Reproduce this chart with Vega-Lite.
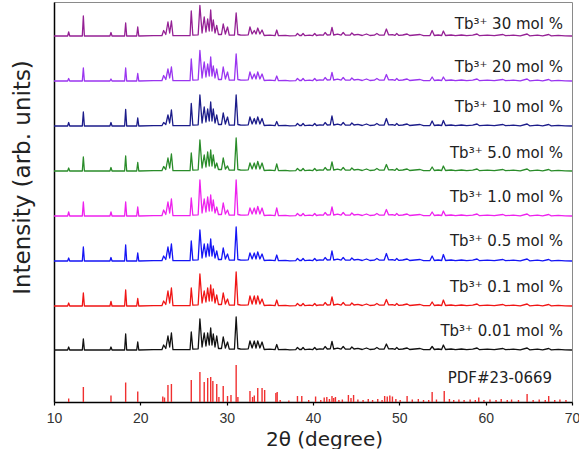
{
  "$schema": "https://vega.github.io/schema/vega-lite/v6.json",
  "width": 518,
  "height": 400,
  "autosize": {"type": "none"},
  "padding": {"left": 54, "top": 2, "right": 7, "bottom": 47},
  "config": {
    "view": {"stroke": "#8a8a8a", "strokeWidth": 1},
    "line": {"strokeWidth": 1.3, "strokeJoin": "round"}
  },
  "datasets": {
    "scans": [
      {"t":10,"a":0,"b":0,"c":0,"d":0,"e":0,"f":0,"g":0,"k":0},
      {"t":11.58,"a":0,"b":0,"c":0,"d":0,"e":0,"f":0,"g":0,"k":0},
      {"t":11.7,"a":4,"b":2.5,"c":3.5,"d":3,"e":4,"f":3,"g":3,"k":3},
      {"t":11.82,"a":0,"b":0,"c":0,"d":0,"e":0,"f":0,"g":0,"k":0},
      {"t":13.28,"a":0,"b":0,"c":0,"d":0,"e":0,"f":0,"g":0,"k":0},
      {"t":13.4,"a":20,"b":13,"c":14,"d":14,"e":14,"f":14,"g":13,"k":11},
      {"t":13.52,"a":0,"b":0,"c":0,"d":0,"e":0,"f":0,"g":0,"k":0},
      {"t":16.48,"a":0,"b":0,"c":0,"d":0,"e":0,"f":0,"g":0,"k":0},
      {"t":16.6,"a":3.5,"b":2,"c":3.5,"d":3.5,"e":4,"f":3.5,"g":4.5,"k":3},
      {"t":16.72,"a":0,"b":0,"c":0,"d":0,"e":0,"f":0,"g":0,"k":0},
      {"t":18.18,"a":0,"b":0,"c":0,"d":0,"e":0,"f":0,"g":0,"k":0},
      {"t":18.3,"a":13,"b":13,"c":16.5,"d":15,"e":14,"f":16,"g":16,"k":16},
      {"t":18.42,"a":0,"b":0,"c":0,"d":0,"e":0,"f":0,"g":0,"k":0},
      {"t":19.58,"a":0,"b":0,"c":0,"d":0,"e":0,"f":0,"g":0,"k":0},
      {"t":19.7,"a":9,"b":7.5,"c":8,"d":8.5,"e":9,"f":8,"g":7.5,"k":8},
      {"t":19.82,"a":0,"b":0,"c":0,"d":0,"e":0,"f":0,"g":0,"k":0},
      {"t":21.5,"a":0.3,"b":0.3,"c":0.3,"d":0.3,"e":0.3,"f":0.3,"g":0.3,"k":0.3},
      {"t":22.5,"a":0.3,"b":0.3,"c":0.3,"d":0.3,"e":0.3,"f":0.3,"g":0.3,"k":0.3},
      {"t":22.7,"a":5.5,"b":5.5,"c":3.5,"d":4.5,"e":6,"f":5,"g":5,"k":5},
      {"t":22.95,"a":1.5,"b":1.5,"c":1.5,"d":1.5,"e":1.5,"f":1.5,"g":1.5,"k":1.5},
      {"t":23.2,"a":14,"b":12,"c":11,"d":13,"e":14,"f":14,"g":15,"k":14},
      {"t":23.4,"a":3,"b":3,"c":3,"d":3,"e":3,"f":3,"g":3,"k":3},
      {"t":23.6,"a":15,"b":14,"c":16,"d":17,"e":17,"f":17,"g":18,"k":17},
      {"t":23.78,"a":0.3,"b":0.3,"c":0.3,"d":0.3,"e":0.3,"f":0.3,"g":0.3,"k":0.3},
      {"t":25.0,"a":0.3,"b":0.3,"c":0.3,"d":0.3,"e":0.3,"f":0.3,"g":0.3,"k":0.3},
      {"t":25.76,"a":0.3,"b":0.3,"c":0.3,"d":0.3,"e":0.3,"f":0.3,"g":0.3,"k":0.3},
      {"t":25.9,"a":25,"b":22,"c":22.5,"d":18,"e":18,"f":20,"g":18,"k":18},
      {"t":26.08,"a":0.8,"b":0.8,"c":0.8,"d":0.8,"e":0.8,"f":0.8,"g":0.8,"k":0.8},
      {"t":26.7,"a":1.2,"b":1.2,"c":1.2,"d":1.2,"e":1.2,"f":1.2,"g":1.2,"k":1.2},
      {"t":26.9,"a":30.5,"b":30.5,"c":31,"d":31,"e":36,"f":31,"g":32,"k":31},
      {"t":27.15,"a":3,"b":3,"c":3,"d":3,"e":3,"f":3,"g":3,"k":3},
      {"t":27.4,"a":19,"b":19,"c":19,"d":16,"e":17,"f":17,"g":15,"k":17},
      {"t":27.6,"a":4,"b":4,"c":4,"d":4,"e":4,"f":4,"g":4,"k":4},
      {"t":27.8,"a":17,"b":17,"c":17,"d":19,"e":19,"f":17,"g":18,"k":17},
      {"t":27.98,"a":5,"b":5,"c":5,"d":5,"e":5,"f":5,"g":5,"k":5},
      {"t":28.15,"a":26,"b":24,"c":24,"d":21,"e":21,"f":22,"g":21,"k":22},
      {"t":28.3,"a":5,"b":5,"c":5,"d":5,"e":5,"f":5,"g":5,"k":5},
      {"t":28.45,"a":16,"b":15,"c":17,"d":16,"e":16,"f":15,"g":17,"k":16},
      {"t":28.65,"a":3,"b":3,"c":3,"d":3,"e":3,"f":3,"g":3,"k":3},
      {"t":28.85,"a":10.5,"b":12,"c":11,"d":8,"e":9,"f":10,"g":11,"k":14},
      {"t":29.05,"a":1.5,"b":1.5,"c":1.5,"d":1.5,"e":1.5,"f":1.5,"g":1.5,"k":1.5},
      {"t":29.4,"a":1.5,"b":1.5,"c":1.5,"d":1.5,"e":1.5,"f":1.5,"g":1.5,"k":1.5},
      {"t":29.6,"a":12,"b":14,"c":13,"d":13,"e":13,"f":13,"g":13,"k":13},
      {"t":29.85,"a":2,"b":2,"c":2,"d":2,"e":2,"f":2,"g":2,"k":2},
      {"t":30.1,"a":9,"b":9,"c":9,"d":5,"e":6,"f":7,"g":7,"k":8},
      {"t":30.3,"a":0.8,"b":0.8,"c":0.8,"d":0.8,"e":0.8,"f":0.8,"g":0.8,"k":0.8},
      {"t":30.9,"a":0.8,"b":0.8,"c":0.8,"d":0.8,"e":0.8,"f":0.8,"g":0.8,"k":0.8},
      {"t":31.1,"a":23,"b":27,"c":31,"d":33,"e":36,"f":34,"g":34,"k":33},
      {"t":31.3,"a":1.5,"b":1.5,"c":1.5,"d":1.5,"e":1.5,"f":1.5,"g":1.5,"k":1.5},
      {"t":31.6,"a":1,"b":1,"c":1,"d":1,"e":1,"f":1,"g":1,"k":1},
      {"t":32.1,"a":0.8,"b":0.8,"c":0.8,"d":0.8,"e":0.8,"f":0.8,"g":0.8,"k":0.8},
      {"t":32.5,"a":1.2,"b":1.2,"c":1.2,"d":1.2,"e":1.2,"f":1.2,"g":1.2,"k":1.2},
      {"t":32.7,"a":9,"b":9,"c":9,"d":8,"e":8,"f":8,"g":10,"k":9},
      {"t":32.95,"a":2,"b":2,"c":2,"d":2,"e":2,"f":2,"g":2,"k":2},
      {"t":33.2,"a":5.5,"b":7,"c":7.5,"d":8,"e":8,"f":8,"g":10,"k":9},
      {"t":33.4,"a":2,"b":2,"c":2,"d":2,"e":2,"f":2,"g":2,"k":2},
      {"t":33.6,"a":8,"b":9,"c":9,"d":9.5,"e":9.5,"f":9,"g":10,"k":9},
      {"t":33.85,"a":2,"b":2,"c":2,"d":2,"e":2,"f":2,"g":2,"k":2},
      {"t":34.1,"a":6,"b":7,"c":7.5,"d":8,"e":8,"f":7,"g":7,"k":8},
      {"t":34.35,"a":0.5,"b":0.5,"c":0.5,"d":0.5,"e":0.5,"f":0.5,"g":0.5,"k":0.5},
      {"t":35.0,"a":0.8,"b":0.8,"c":0.8,"d":0.8,"e":0.8,"f":0.8,"g":0.8,"k":0.8},
      {"t":35.6,"a":0.3,"b":0.3,"c":0.3,"d":0.3,"e":0.3,"f":0.3,"g":0.3,"k":0.3},
      {"t":35.8,"a":6,"b":5,"c":4.5,"d":7,"e":8,"f":6,"g":6,"k":5.5},
      {"t":36.0,"a":0.3,"b":0.3,"c":0.3,"d":0.3,"e":0.3,"f":0.3,"g":0.3,"k":0.3},
      {"t":36.8,"a":0.6,"b":0.6,"c":0.6,"d":0.6,"e":0.6,"f":0.6,"g":0.6,"k":0.6},
      {"t":37.3,"a":0.2,"b":0.2,"c":0.2,"d":0.2,"e":0.2,"f":0.2,"g":0.2,"k":0.2},
      {"t":38.0,"a":0.3,"b":0.3,"c":0.3,"d":0.3,"e":0.3,"f":0.3,"g":0.3,"k":0.3},
      {"t":38.2,"a":2.5,"b":2.5,"c":2.5,"d":2.5,"e":2.5,"f":2.5,"g":2.5,"k":2.5},
      {"t":38.45,"a":0.5,"b":0.5,"c":0.5,"d":0.5,"e":0.5,"f":0.5,"g":0.5,"k":0.5},
      {"t":38.65,"a":0.5,"b":0.5,"c":0.5,"d":0.5,"e":0.5,"f":0.5,"g":0.5,"k":0.5},
      {"t":38.85,"a":2.5,"b":2.5,"c":2.5,"d":2.5,"e":2.5,"f":2.5,"g":2.5,"k":2.5},
      {"t":39.05,"a":0.3,"b":0.3,"c":0.3,"d":0.3,"e":0.3,"f":0.3,"g":0.3,"k":0.3},
      {"t":39.6,"a":0.8,"b":0.8,"c":0.8,"d":0.8,"e":0.8,"f":0.8,"g":0.8,"k":0.8},
      {"t":39.95,"a":0.3,"b":0.3,"c":0.3,"d":0.3,"e":0.3,"f":0.3,"g":0.3,"k":0.3},
      {"t":40.2,"a":2.5,"b":2.5,"c":2.5,"d":2.5,"e":2.5,"f":2.5,"g":2.5,"k":2.5},
      {"t":40.4,"a":0.5,"b":0.5,"c":0.5,"d":0.5,"e":0.5,"f":0.5,"g":0.5,"k":0.5},
      {"t":40.8,"a":1.2,"b":1.2,"c":1.2,"d":1.2,"e":1.2,"f":1.2,"g":1.2,"k":1.2},
      {"t":41.2,"a":0.8,"b":0.8,"c":0.8,"d":0.8,"e":0.8,"f":0.8,"g":0.8,"k":0.8},
      {"t":41.4,"a":3.5,"b":3.5,"c":3.5,"d":3.5,"e":3.5,"f":3.5,"g":3.5,"k":3.5},
      {"t":41.65,"a":1,"b":1,"c":1,"d":1,"e":1,"f":1,"g":1,"k":1},
      {"t":42.0,"a":1.2,"b":1.2,"c":1.2,"d":1.2,"e":1.2,"f":1.2,"g":1.2,"k":1.2},
      {"t":42.2,"a":8.5,"b":8.5,"c":10,"d":9,"e":9,"f":10,"g":9,"k":8.5},
      {"t":42.4,"a":1,"b":1,"c":1,"d":1,"e":1,"f":1,"g":1,"k":1},
      {"t":42.85,"a":1.8,"b":1.8,"c":1.8,"d":1.8,"e":1.8,"f":1.8,"g":1.8,"k":1.8},
      {"t":43.25,"a":0.8,"b":0.8,"c":0.8,"d":0.8,"e":0.8,"f":0.8,"g":0.8,"k":0.8},
      {"t":43.5,"a":3.5,"b":3.5,"c":3.5,"d":3.5,"e":3.5,"f":3.5,"g":3.5,"k":3.5},
      {"t":43.75,"a":0.8,"b":0.8,"c":0.8,"d":0.8,"e":0.8,"f":0.8,"g":0.8,"k":0.8},
      {"t":44.3,"a":0.8,"b":0.8,"c":0.8,"d":0.8,"e":0.8,"f":0.8,"g":0.8,"k":0.8},
      {"t":44.5,"a":3,"b":3,"c":3,"d":3,"e":3,"f":3,"g":3,"k":3},
      {"t":44.75,"a":1,"b":1,"c":1,"d":1,"e":1,"f":1,"g":1,"k":1},
      {"t":45.2,"a":1.6,"b":1.6,"c":1.6,"d":1.6,"e":1.6,"f":1.6,"g":1.6,"k":1.6},
      {"t":45.7,"a":0.5,"b":0.5,"c":0.5,"d":0.5,"e":0.5,"f":0.5,"g":0.5,"k":0.5},
      {"t":46.2,"a":2,"b":2,"c":2,"d":2,"e":2,"f":2,"g":2,"k":2},
      {"t":46.6,"a":0.5,"b":0.5,"c":0.5,"d":0.5,"e":0.5,"f":0.5,"g":0.5,"k":0.5},
      {"t":47.1,"a":0.8,"b":0.8,"c":0.8,"d":0.8,"e":0.8,"f":0.8,"g":0.8,"k":0.8},
      {"t":47.4,"a":2.5,"b":2.5,"c":2.5,"d":2.5,"e":2.5,"f":2.5,"g":2.5,"k":2.5},
      {"t":47.7,"a":0.8,"b":0.8,"c":0.8,"d":0.8,"e":0.8,"f":0.8,"g":0.8,"k":0.8},
      {"t":48.25,"a":1,"b":1,"c":1,"d":1,"e":1,"f":1,"g":1,"k":1},
      {"t":48.5,"a":7,"b":6.5,"c":7.5,"d":6.5,"e":6.5,"f":7.5,"g":6.5,"k":6},
      {"t":48.75,"a":1.2,"b":1.2,"c":1.2,"d":1.2,"e":1.2,"f":1.2,"g":1.2,"k":1.2},
      {"t":49.2,"a":1.4,"b":1.4,"c":1.4,"d":1.4,"e":1.4,"f":1.4,"g":1.4,"k":1.4},
      {"t":49.5,"a":0.6,"b":0.6,"c":0.6,"d":0.6,"e":0.6,"f":0.6,"g":0.6,"k":0.6},
      {"t":49.7,"a":2.5,"b":2.5,"c":2.5,"d":2.5,"e":2.5,"f":2.5,"g":2.5,"k":2.5},
      {"t":49.95,"a":0.6,"b":0.6,"c":0.6,"d":0.6,"e":0.6,"f":0.6,"g":0.6,"k":0.6},
      {"t":50.4,"a":1,"b":1,"c":1,"d":1,"e":1,"f":1,"g":1,"k":1},
      {"t":50.9,"a":2,"b":2,"c":2,"d":2,"e":2,"f":2,"g":2,"k":2},
      {"t":51.2,"a":0.5,"b":0.5,"c":0.5,"d":0.5,"e":0.5,"f":0.5,"g":0.5,"k":0.5},
      {"t":51.8,"a":1,"b":1,"c":1,"d":1,"e":1,"f":1,"g":1,"k":1},
      {"t":52.4,"a":1.5,"b":1.5,"c":1.5,"d":1.5,"e":1.5,"f":1.5,"g":1.5,"k":1.5},
      {"t":52.8,"a":0.4,"b":0.4,"c":0.4,"d":0.4,"e":0.4,"f":0.4,"g":0.4,"k":0.4},
      {"t":53.55,"a":0.5,"b":0.5,"c":0.5,"d":0.5,"e":0.5,"f":0.5,"g":0.5,"k":0.5},
      {"t":53.8,"a":5.5,"b":4,"c":5,"d":4,"e":4,"f":5,"g":4,"k":3.5},
      {"t":54.05,"a":0.5,"b":0.5,"c":0.5,"d":0.5,"e":0.5,"f":0.5,"g":0.5,"k":0.5},
      {"t":54.5,"a":1,"b":1,"c":1,"d":1,"e":1,"f":1,"g":1,"k":1},
      {"t":54.9,"a":0.5,"b":0.5,"c":0.5,"d":0.5,"e":0.5,"f":0.5,"g":0.5,"k":0.5},
      {"t":55.1,"a":5,"b":4,"c":5.5,"d":5,"e":5,"f":6.5,"g":6,"k":5},
      {"t":55.35,"a":0.5,"b":0.5,"c":0.5,"d":0.5,"e":0.5,"f":0.5,"g":0.5,"k":0.5},
      {"t":56.0,"a":1,"b":1,"c":1,"d":1,"e":1,"f":1,"g":1,"k":1},
      {"t":56.5,"a":0.3,"b":0.3,"c":0.3,"d":0.3,"e":0.3,"f":0.3,"g":0.3,"k":0.3},
      {"t":57.2,"a":1,"b":1,"c":1,"d":1,"e":1,"f":1,"g":1,"k":1},
      {"t":57.8,"a":0.3,"b":0.3,"c":0.3,"d":0.3,"e":0.3,"f":0.3,"g":0.3,"k":0.3},
      {"t":58.5,"a":0.8,"b":0.8,"c":0.8,"d":0.8,"e":0.8,"f":0.8,"g":0.8,"k":0.8},
      {"t":59.0,"a":2,"b":2,"c":2,"d":2,"e":2,"f":2,"g":2,"k":2},
      {"t":59.3,"a":0.3,"b":0.3,"c":0.3,"d":0.3,"e":0.3,"f":0.3,"g":0.3,"k":0.3},
      {"t":60.2,"a":0.8,"b":0.8,"c":0.8,"d":0.8,"e":0.8,"f":0.8,"g":0.8,"k":0.8},
      {"t":61.0,"a":0.3,"b":0.3,"c":0.3,"d":0.3,"e":0.3,"f":0.3,"g":0.3,"k":0.3},
      {"t":62.0,"a":1.5,"b":1.5,"c":1.5,"d":1.5,"e":1.5,"f":1.5,"g":1.5,"k":1.5},
      {"t":62.3,"a":0.3,"b":0.3,"c":0.3,"d":0.3,"e":0.3,"f":0.3,"g":0.3,"k":0.3},
      {"t":63.2,"a":0.8,"b":0.8,"c":0.8,"d":0.8,"e":0.8,"f":0.8,"g":0.8,"k":0.8},
      {"t":64.0,"a":0.2,"b":0.2,"c":0.2,"d":0.2,"e":0.2,"f":0.2,"g":0.2,"k":0.2},
      {"t":64.8,"a":2,"b":2,"c":2,"d":2,"e":2,"f":2,"g":2,"k":2},
      {"t":65.1,"a":0.2,"b":0.2,"c":0.2,"d":0.2,"e":0.2,"f":0.2,"g":0.2,"k":0.2},
      {"t":66.0,"a":0.8,"b":0.8,"c":0.8,"d":0.8,"e":0.8,"f":0.8,"g":0.8,"k":0.8},
      {"t":66.6,"a":0.2,"b":0.2,"c":0.2,"d":0.2,"e":0.2,"f":0.2,"g":0.2,"k":0.2},
      {"t":67.3,"a":1.5,"b":1.5,"c":1.5,"d":1.5,"e":1.5,"f":1.5,"g":1.5,"k":1.5},
      {"t":67.6,"a":0.2,"b":0.2,"c":0.2,"d":0.2,"e":0.2,"f":0.2,"g":0.2,"k":0.2},
      {"t":68.4,"a":0.6,"b":0.6,"c":0.6,"d":0.6,"e":0.6,"f":0.6,"g":0.6,"k":0.6},
      {"t":69.2,"a":0.2,"b":0.2,"c":0.2,"d":0.2,"e":0.2,"f":0.2,"g":0.2,"k":0.2},
      {"t":70,"a":0,"b":0,"c":0,"d":0,"e":0,"f":0,"g":0,"k":0}
    ],
    "pdf": [
      {"t":11.7,"h":3.5},{"t":13.4,"h":15},{"t":16.6,"h":6.5},{"t":18.3,"h":19.5},{"t":19.7,"h":10.5},
      {"t":22.6,"h":5.5},{"t":22.8,"h":4.5},{"t":23.2,"h":17},{"t":23.6,"h":18},
      {"t":25.9,"h":22},{"t":26.9,"h":30},{"t":27.4,"h":20},{"t":27.8,"h":24},{"t":28.15,"h":25},
      {"t":28.4,"h":21},{"t":28.85,"h":18},{"t":29.1,"h":5},{"t":29.6,"h":16},{"t":30.1,"h":6},
      {"t":30.5,"h":7},{"t":31.1,"h":37},{"t":31.3,"h":5},{"t":32.7,"h":11},{"t":33.0,"h":5},
      {"t":33.2,"h":6.5},{"t":33.6,"h":14},{"t":34.1,"h":14},{"t":34.4,"h":12},{"t":35.7,"h":9},
      {"t":35.85,"h":10},{"t":36.2,"h":2},{"t":37.2,"h":1.5},{"t":38.2,"h":6},{"t":38.7,"h":6},
      {"t":39.5,"h":2},{"t":40.3,"h":5.5},{"t":40.9,"h":2},{"t":41.3,"h":4.5},{"t":41.6,"h":5},
      {"t":41.9,"h":3},{"t":42.2,"h":6},{"t":42.4,"h":4},{"t":42.6,"h":5},{"t":43.0,"h":2},
      {"t":43.4,"h":2.5},{"t":44.1,"h":7},{"t":44.4,"h":4},{"t":44.7,"h":7},{"t":45.2,"h":2.5},
      {"t":45.8,"h":2},{"t":46.4,"h":3},{"t":46.9,"h":2},{"t":47.5,"h":3},{"t":48.0,"h":2},
      {"t":48.3,"h":6},{"t":48.6,"h":5.5},{"t":48.9,"h":6.5},{"t":49.2,"h":5.5},{"t":49.6,"h":3},
      {"t":50.1,"h":2},{"t":50.9,"h":6},{"t":51.5,"h":2.5},{"t":52.2,"h":3},{"t":52.8,"h":2},
      {"t":53.4,"h":2},{"t":53.8,"h":10},{"t":54.3,"h":2.5},{"t":55.2,"h":11},{"t":55.8,"h":3},
      {"t":56.3,"h":2},{"t":56.9,"h":2.5},{"t":57.5,"h":2},{"t":58.2,"h":2.5},{"t":58.8,"h":2},
      {"t":59.2,"h":4.5},{"t":59.8,"h":2},{"t":60.5,"h":2.5},{"t":61.2,"h":2},{"t":61.8,"h":3},
      {"t":62.5,"h":2},{"t":63.0,"h":2.5},{"t":63.8,"h":2},{"t":64.8,"h":8},{"t":65.5,"h":2},
      {"t":66.2,"h":2.5},{"t":66.9,"h":2},{"t":67.3,"h":6},{"t":68.0,"h":2},{"t":68.6,"h":2.5},
      {"t":69.3,"h":2}
    ],
    "labels": [
      {"t":68.95,"y":378,"label":"Tb³⁺  30 mol %"},
      {"t":68.95,"y":335,"label":"Tb³⁺  20 mol %"},
      {"t":68.95,"y":295,"label":"Tb³⁺  10 mol %"},
      {"t":68.95,"y":249,"label":"Tb³⁺  5.0 mol %"},
      {"t":68.95,"y":205,"label":"Tb³⁺  1.0 mol %"},
      {"t":68.95,"y":161,"label":"Tb³⁺  0.5 mol %"},
      {"t":68.95,"y":115.5,"label":"Tb³⁺  0.1 mol %"},
      {"t":68.95,"y":71.5,"label":"Tb³⁺ 0.01 mol %"},
      {"t":67.7,"y":24,"label":"PDF#23-0669"}
    ]
  },
  "layer": [
    {
      "data": {"name": "pdf"},
      "mark": {"type": "rule", "color": "#f03030", "strokeWidth": 1.4},
      "encoding": {
        "x": {
          "field": "t", "type": "quantitative",
          "scale": {"domain": [10, 70], "nice": false, "zero": false},
          "axis": {
            "values": [10, 20, 30, 40, 50, 60, 70],
            "grid": false, "labelFlush": false,
            "labelFont": "Liberation Sans", "labelFontSize": 14, "labelColor": "#333333", "labelPadding": 6,
            "tickSize": 3, "tickColor": "#000000", "tickWidth": 1.2,
            "domainColor": "#000000", "domainWidth": 1.5,
            "title": "2θ (degree)", "titleFont": "DejaVu Sans", "titleFontSize": 20, "titleFontWeight": "normal",
            "titleColor": "#222222", "titleX": 270, "titleY": 43, "titleBaseline": "alphabetic", "titleAlign": "center"
          }
        },
        "y": {
          "field": "h", "type": "quantitative",
          "scale": {"domain": [0, 400], "nice": false, "zero": false},
          "axis": {
            "labels": false, "ticks": false, "grid": false,
            "domainColor": "#000000", "domainWidth": 1.5,
            "title": "Intensity (arb. units)", "titleFont": "DejaVu Sans", "titleFontSize": 23, "titleFontWeight": "normal",
            "titleColor": "#222222", "titleX": -32, "titleY": 175, "titleAlign": "center", "titleBaseline": "middle"
          }
        },
        "y2": {"datum": 0}
      }
    },
    {
      "data": {"name": "scans"},
      "mark": {"type": "line", "color": "#111111"},
      "encoding": {
        "x": {"field": "t", "type": "quantitative"},
        "y": {"field": "k", "type": "quantitative", "scale": {"domain": [-52, 348], "nice": false, "zero": false}, "axis": null}
      }
    },
    {
      "data": {"name": "scans"},
      "mark": {"type": "line", "color": "#f01515"},
      "encoding": {
        "x": {"field": "t", "type": "quantitative"},
        "y": {"field": "g", "type": "quantitative", "scale": {"domain": [-96, 304], "nice": false, "zero": false}, "axis": null}
      }
    },
    {
      "data": {"name": "scans"},
      "mark": {"type": "line", "color": "#1515f5"},
      "encoding": {
        "x": {"field": "t", "type": "quantitative"},
        "y": {"field": "f", "type": "quantitative", "scale": {"domain": [-141, 259], "nice": false, "zero": false}, "axis": null}
      }
    },
    {
      "data": {"name": "scans"},
      "mark": {"type": "line", "color": "#ee22ee"},
      "encoding": {
        "x": {"field": "t", "type": "quantitative"},
        "y": {"field": "e", "type": "quantitative", "scale": {"domain": [-186, 214], "nice": false, "zero": false}, "axis": null}
      }
    },
    {
      "data": {"name": "scans"},
      "mark": {"type": "line", "color": "#2a8c2a"},
      "encoding": {
        "x": {"field": "t", "type": "quantitative"},
        "y": {"field": "d", "type": "quantitative", "scale": {"domain": [-231, 169], "nice": false, "zero": false}, "axis": null}
      }
    },
    {
      "data": {"name": "scans"},
      "mark": {"type": "line", "color": "#1c1c8a"},
      "encoding": {
        "x": {"field": "t", "type": "quantitative"},
        "y": {"field": "c", "type": "quantitative", "scale": {"domain": [-276, 124], "nice": false, "zero": false}, "axis": null}
      }
    },
    {
      "data": {"name": "scans"},
      "mark": {"type": "line", "color": "#9a35f0"},
      "encoding": {
        "x": {"field": "t", "type": "quantitative"},
        "y": {"field": "b", "type": "quantitative", "scale": {"domain": [-321, 79], "nice": false, "zero": false}, "axis": null}
      }
    },
    {
      "data": {"name": "scans"},
      "mark": {"type": "line", "color": "#952195"},
      "encoding": {
        "x": {"field": "t", "type": "quantitative"},
        "y": {"field": "a", "type": "quantitative", "scale": {"domain": [-366, 34], "nice": false, "zero": false}, "axis": null}
      }
    },
    {
      "data": {"name": "labels"},
      "mark": {"type": "text", "align": "right", "baseline": "middle", "font": "DejaVu Sans", "fontSize": 15, "color": "#222222"},
      "encoding": {
        "x": {"field": "t", "type": "quantitative"},
        "y": {"field": "y", "type": "quantitative", "scale": {"domain": [0, 400], "nice": false, "zero": false}, "axis": null},
        "text": {"field": "label"}
      }
    }
  ],
  "resolve": {"scale": {"y": "independent"}}
}
